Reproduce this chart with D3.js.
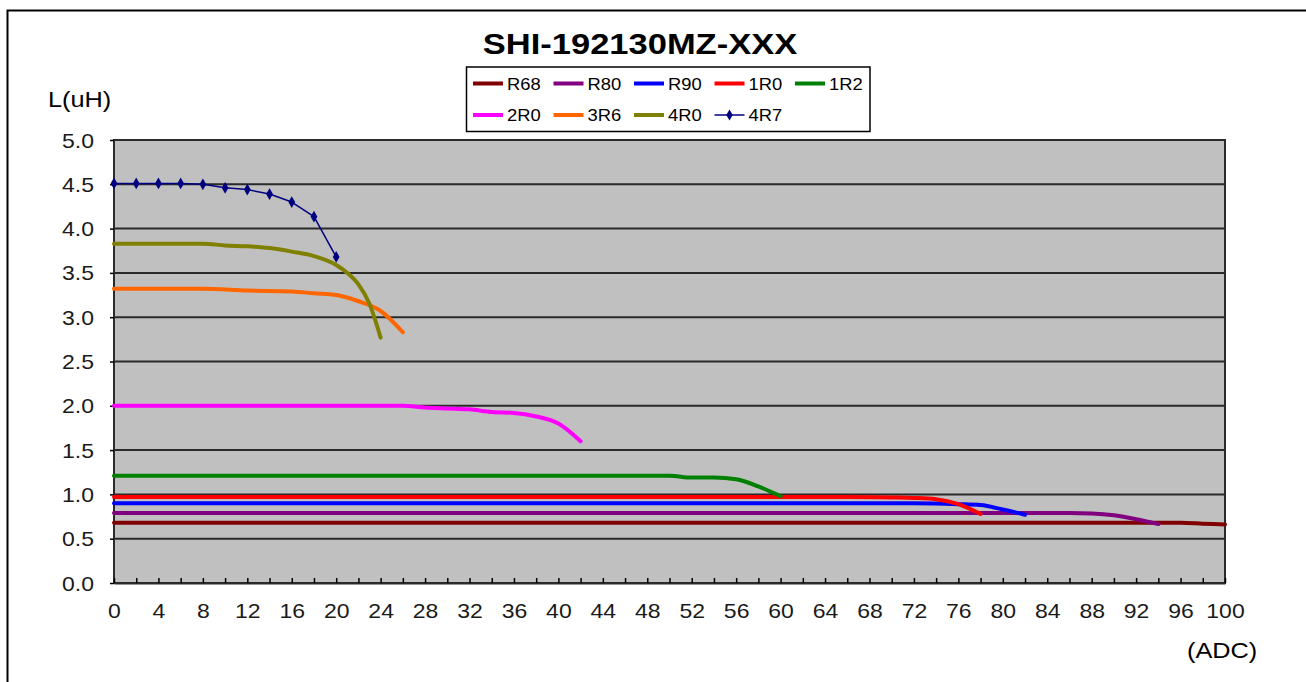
<!DOCTYPE html>
<html>
<head>
<meta charset="utf-8">
<script src="https://cdn.jsdelivr.net/npm/d3@7"></script>
<style>
  body { margin: 0; background: #fff; }
  svg { display: block; font-family: "Liberation Sans", Arial, sans-serif; }
</style>
</head>
<body>
<script>
// inductance vs current
var names = ["R68", "R80", "R90", "1R0", "1R2", "2R0", "3R6", "4R0", "4R7"];
var colors = ["#800000", "#800080", "#0000ff", "#ff0000", "#008000", "#ff00ff", "#ff6600", "#808000", "#000080"];

var xR68 = [0, 50, 94, 96, 98, 100];
var yR68 = [0.68, 0.68, 0.68, 0.68, 0.67, 0.66];
var xR80 = [0, 40, 84, 86, 88, 90, 92, 94];
var yR80 = [0.79, 0.79, 0.79, 0.79, 0.785, 0.765, 0.72, 0.665];
var xR90 = [0, 40, 72, 76, 78, 80, 82];
var yR90 = [0.90, 0.90, 0.90, 0.89, 0.88, 0.83, 0.77];
var x1R0 = [0, 40, 66, 70, 72, 74, 76, 78];
var y1R0 = [0.97, 0.97, 0.97, 0.965, 0.96, 0.945, 0.89, 0.78];
var x1R2 = [0, 30, 50, 52, 54, 56, 58, 60];
var y1R2 = [1.21, 1.21, 1.21, 1.19, 1.19, 1.17, 1.09, 0.98];
var x2R0 = [0, 20, 26, 28, 30, 32, 34, 36, 38, 40, 42];
var y2R0 = [2.0, 2.0, 2.0, 1.98, 1.97, 1.96, 1.93, 1.92, 1.88, 1.80, 1.60];
var x3R6 = [0, 4, 8, 12, 16, 18, 20, 22, 24, 26];
var y3R6 = [3.32, 3.32, 3.32, 3.30, 3.29, 3.27, 3.25, 3.18, 3.07, 2.83];
var x4R0 = [0, 4, 8, 10, 12, 14, 16, 18, 20, 21, 22, 23, 24];
var y4R0 = [3.83, 3.83, 3.83, 3.81, 3.80, 3.78, 3.74, 3.69, 3.59, 3.50, 3.37, 3.15, 2.77];
var x4R7 = [0, 2, 4, 6, 8, 10, 12, 14, 16, 18, 20];
var y4R7 = [4.51, 4.51, 4.51, 4.51, 4.50, 4.46, 4.44, 4.39, 4.30, 4.135, 3.68];

var xs = [xR68, xR80, xR90, x1R0, x1R2, x2R0, x3R6, x4R0, x4R7];
var ys = [yR68, yR80, yR90, y1R0, y1R2, y2R0, y3R6, y4R0, y4R7];

var xTicks = d3.range(0, 101, 2);
var yTicks = d3.range(0, 5.01, 0.5);

var W = 1306, H = 682;
var plotL = 114, plotR = 1225, plotT = 140, plotB = 583;
var STRETCH = 1.15; // the source text is a bit wide

var svg = d3.select("body").append("svg").attr("width", W).attr("height", H);

var x = d3.scaleLinear().domain([0, 100]).range([plotL, plotR]);
var y = d3.scaleLinear().domain([0, 5]).range([plotB, plotT]);

function label(g, px, py, str, size, anchor, weight) {
    return g.append("text")
        .attr("transform", "translate(" + px + "," + py + ") scale(" + STRETCH + ",1)")
        .attr("text-anchor", anchor || "start")
        .attr("font-size", size)
        .attr("font-weight", weight || "normal")
        .attr("fill", "#000")
        .text(str);
}

// outer frame
svg.append("path").attr("d", "M7.5," + H + "V10.5H" + W)
    .attr("fill", "none").attr("stroke", "#000").attr("stroke-width", 2);

label(svg, 640, 54, "SHI-192130MZ-XXX", 30, "middle", "bold");

// plot area
svg.append("rect").attr("x", plotL).attr("y", plotT)
    .attr("width", plotR - plotL).attr("height", plotB - plotT)
    .attr("fill", "#c0c0c0");

svg.append("g").selectAll("line").data(yTicks.slice(1, -1)).enter().append("line")
    .attr("x1", plotL).attr("x2", plotR)
    .attr("y1", function (d) { return y(d); }).attr("y2", function (d) { return y(d); })
    .attr("stroke", "#2a2a2a").attr("stroke-width", 2);

svg.append("rect").attr("x", plotL).attr("y", plotT)
    .attr("width", plotR - plotL).attr("height", plotB - plotT)
    .attr("fill", "none").attr("stroke", "#2a2a2a").attr("stroke-width", 2);

// axes
var xAxis = svg.append("g").attr("transform", "translate(0," + plotB + ")")
    .call(d3.axisBottom(x).tickValues(xTicks).tickSize(-5).tickSizeOuter(0)
        .tickFormat(function (d) { return d % 4 === 0 ? d : ""; }));
xAxis.select(".domain").attr("stroke", "#2a2a2a").attr("stroke-width", 2);
xAxis.selectAll(".tick line").attr("stroke", "#000").attr("stroke-width", 1.5);
xAxis.selectAll(".tick text")
    .attr("y", 0).attr("dy", 0)
    .attr("transform", "translate(0,35) scale(" + STRETCH + ",1)")
    .attr("font-size", 20).attr("font-family", null).attr("fill", "#1a1a1a");

var yAxis = svg.append("g").attr("transform", "translate(" + plotL + ",0)")
    .call(d3.axisLeft(y).tickValues(yTicks).tickSize(4).tickSizeOuter(0)
        .tickFormat(d3.format(".1f")));
yAxis.select(".domain").remove();
yAxis.selectAll(".tick line").attr("stroke", "#000").attr("stroke-width", 1.5);
yAxis.selectAll(".tick text")
    .attr("x", -20 / STRETCH).attr("dy", "0.35em")
    .attr("transform", "scale(" + STRETCH + ",1)")
    .attr("font-size", 20).attr("font-family", null).attr("fill", "#1a1a1a");

label(svg, 48, 107, "L(uH)", 22, "start");
label(svg, 1187, 658, "(ADC)", 22, "start");

// series
var smooth = d3.line().curve(d3.curveMonotoneX);
var straight = d3.line();

names.forEach(function (name, i) {
    var pts = xs[i].map(function (v, j) { return [x(v), y(ys[i][j])]; });
    var thin = name === "4R7";
    svg.append("path")
        .attr("d", (thin ? straight : smooth)(pts))
        .attr("fill", "none")
        .attr("stroke", colors[i])
        .attr("stroke-width", thin ? 1.5 : 4)
        .attr("stroke-linecap", "round")
        .attr("stroke-linejoin", "round");
    if (thin) {
        svg.append("g").selectAll("path").data(pts).enter().append("path")
            .attr("d", d3.symbol(d3.symbolDiamond, 40))
            .attr("transform", function (d) { return "translate(" + d[0] + "," + d[1] + ")"; })
            .attr("fill", colors[i]);
    }
});

// legend
var legend = svg.append("g");
legend.append("rect").attr("x", 466.5).attr("y", 67).attr("width", 403.5).attr("height", 64.5)
    .attr("fill", "#fff").attr("stroke", "#000").attr("stroke-width", 1.5);

names.forEach(function (name, i) {
    var col = i % 5, row = Math.floor(i / 5);
    var lx = 473 + col * 80.5, ly = 83.5 + row * 31.5;
    var thin = name === "4R7";
    legend.append("line").attr("x1", lx).attr("x2", lx + 30).attr("y1", ly).attr("y2", ly)
        .attr("stroke", colors[i]).attr("stroke-width", thin ? 1.5 : 4);
    if (thin) {
        legend.append("path").attr("d", d3.symbol(d3.symbolDiamond, 36))
            .attr("transform", "translate(" + (lx + 15) + "," + ly + ")")
            .attr("fill", colors[i]);
    }
    label(legend, lx + 34, ly + 6, name, 16, "start");
});
</script>
</body>
</html>
